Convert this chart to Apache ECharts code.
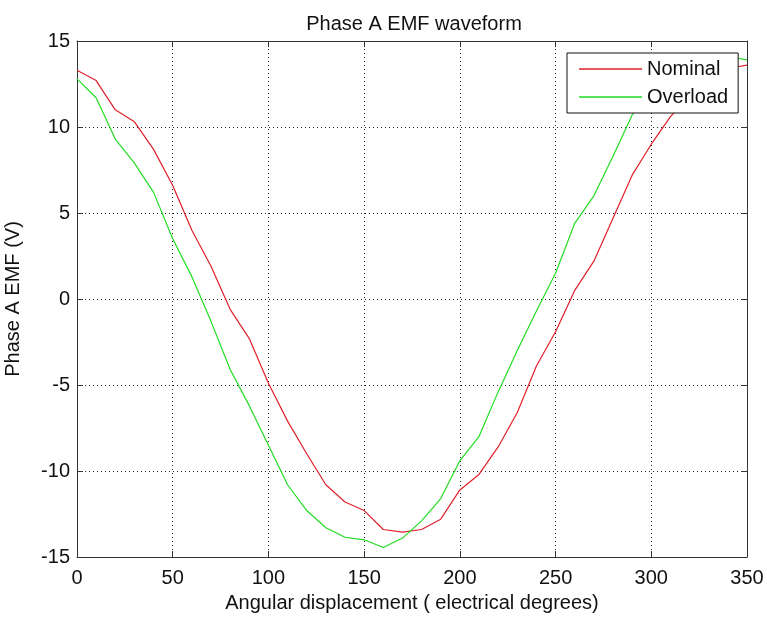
<!DOCTYPE html>
<html>
<head>
<meta charset="utf-8">
<script src="https://cdn.jsdelivr.net/npm/echarts@6/dist/echarts.min.js"></script>
<style>
html,body{margin:0;padding:0;background:#fff;}
#chart{width:767px;height:619px;}
</style>
</head>
<body>
<div id="chart"></div>
<script>
var degrees = [0,10,20,30,40,50,60,70,80,90,100,110,120,130,140,150,160,170,180,190,200,210,220,230,240,250,260,270,280,290,300,310,320,330,340,350];
var nominal = [13.3,12.7,11.0,10.3,8.7,6.6,4.0,1.9,-0.6,-2.3,-4.9,-7.1,-9.0,-10.8,-11.8,-12.3,-13.4,-13.55,-13.4,-12.8,-11.1,-10.2,-8.6,-6.6,-3.9,-1.9,0.5,2.2,4.7,7.2,9.0,10.6,11.8,12.7,13.4,13.6];
var overload = [12.8,11.7,9.3,7.9,6.2,3.5,1.3,-1.3,-4.1,-6.2,-8.5,-10.8,-12.3,-13.3,-13.85,-14.0,-14.45,-13.9,-12.9,-11.6,-9.4,-8.0,-5.4,-3.0,-0.7,1.5,4.4,6.0,8.3,10.7,12.2,13.2,13.8,14.1,14.1,13.9];
var xTicks = {min:0, max:350, interval:50};
var yTicks = {min:-15, max:15, interval:5};

function pairs(xs, ys){ return xs.map(function(x,i){ return [x, ys[i]]; }); }

var FONT = "'Liberation Sans', Arial, sans-serif";
var TXT = '#111';
var AX = '#333';
var dotted = {show:true, lineStyle:{color:'#222', type:[1,3], width:1}};

var chart = echarts.init(document.getElementById('chart'), null, {renderer:'canvas'});
chart.setOption({
  backgroundColor:'#fff',
  animation:false,
  textStyle:{fontFamily:FONT},
  title:{
    text:'Phase A EMF waveform',
    left:409, top:9, textAlign:'center',
    textStyle:{fontFamily:FONT, fontSize:20, fontWeight:'normal', color:TXT}
  },
  legend:{
    orient:'vertical',
    left:567, top:53,
    padding:[6,10,6,12],
    itemGap:8,
    icon:'rect',
    itemWidth:63, itemHeight:1.3,
    borderColor:'#111', borderWidth:1,
    backgroundColor:'#fff',
    textStyle:{fontFamily:FONT, fontSize:20, color:TXT, lineHeight:20},
    data:['Nominal','Overload']
  },
  grid:{left:77, top:41, width:670, height:516, containLabel:false, outerBoundsMode:'none'},
  xAxis:[{
    type:'value', position:'bottom',
    min:xTicks.min, max:xTicks.max, interval:xTicks.interval,
    name:'Angular displacement ( electrical degrees)',
    nameLocation:'middle', nameGap:36,
    nameTextStyle:{fontFamily:FONT, fontSize:20, color:TXT},
    axisLine:{show:true, onZero:false, lineStyle:{color:AX, width:1}},
    axisTick:{show:true, inside:true, length:6, lineStyle:{color:AX}},
    axisLabel:{fontFamily:FONT, fontSize:20, color:TXT, margin:11},
    splitLine:dotted
  },{
    type:'value', position:'top',
    min:xTicks.min, max:xTicks.max, interval:xTicks.interval,
    axisLine:{show:true, onZero:false, lineStyle:{color:AX, width:1}},
    axisTick:{show:true, inside:true, length:6, lineStyle:{color:AX}},
    axisLabel:{show:false},
    splitLine:{show:false}
  }],
  yAxis:[{
    type:'value', position:'left',
    min:yTicks.min, max:yTicks.max, interval:yTicks.interval,
    name:'Phase A EMF (V)',
    nameLocation:'middle', nameGap:54, nameRotate:90,
    nameTextStyle:{fontFamily:FONT, fontSize:20, color:TXT},
    axisLine:{show:true, onZero:false, lineStyle:{color:AX, width:1}},
    axisTick:{show:true, inside:true, length:6, lineStyle:{color:AX}},
    axisLabel:{fontFamily:FONT, fontSize:20, color:TXT, margin:7},
    splitLine:dotted
  },{
    type:'value', position:'right',
    min:yTicks.min, max:yTicks.max, interval:yTicks.interval,
    axisLine:{show:true, onZero:false, lineStyle:{color:AX, width:1}},
    axisTick:{show:true, inside:true, length:6, lineStyle:{color:AX}},
    axisLabel:{show:false},
    splitLine:{show:false}
  }],
  series:[{
    name:'Nominal', type:'line', symbol:'none',
    data:pairs(degrees, nominal),
    lineStyle:{color:'#e0202a', width:1.2},
    itemStyle:{color:'#e0202a'}
  },{
    name:'Overload', type:'line', symbol:'none',
    data:pairs(degrees, overload),
    lineStyle:{color:'#22dd22', width:1.2},
    itemStyle:{color:'#22dd22'}
  }]
});
</script>
</body>
</html>
